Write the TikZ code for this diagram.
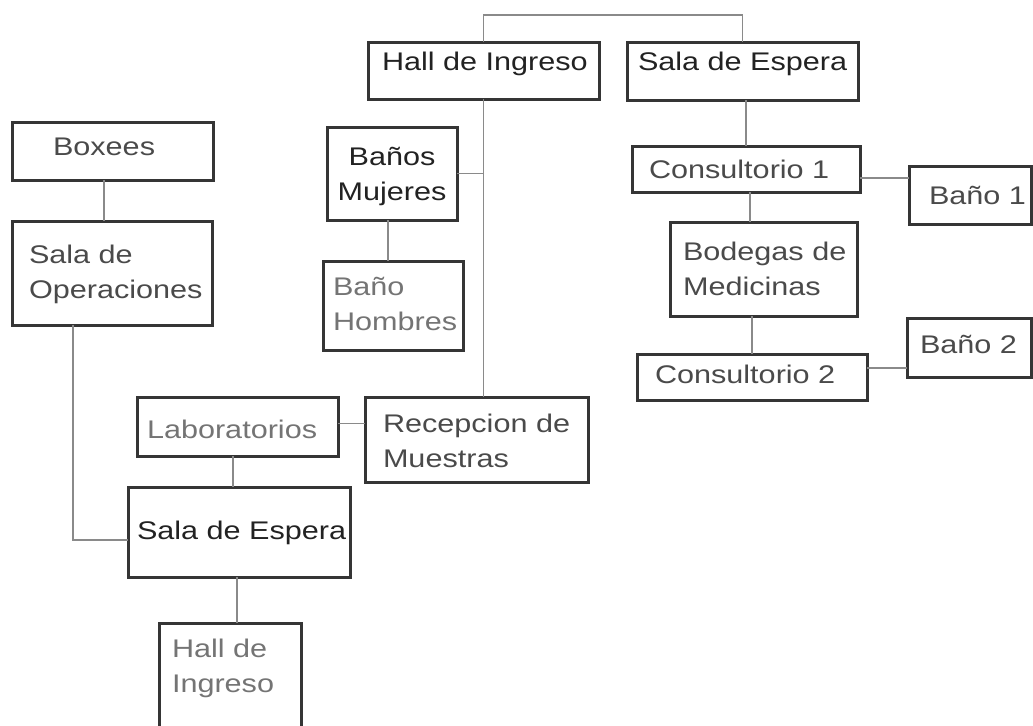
\documentclass[tikz,border=0pt]{standalone}
\usepackage{fontspec}
\setmainfont{Liberation Sans}[FakeStretch=1.2]
\hyphenpenalty=10000
\definecolor{boxline}{HTML}{353535}
\definecolor{wiregray}{HTML}{8A8A8A}
\definecolor{inkdark}{HTML}{222222}
\definecolor{inkgray}{HTML}{4A4A4A}
\definecolor{inklight}{HTML}{747474}

\begin{document}
\begin{tikzpicture}[x=0.5pt, y=-0.5pt,
    font=\fontsize{12.75pt}{17.5pt}\selectfont,
    room/.style n args={3}{draw=boxline, line width=1.5pt, outer sep=0pt,
      inner xsep=0pt, inner ysep=0pt, anchor=north west, align=left,
      text width=#1, text height=#2, text depth=#3},
    pad/.style={execute at begin node={\leftskip=#1}},
    wire/.style={draw=wiregray, line width=0.8pt}]
  \useasboundingbox (0,0) rectangle (1033,725);
  \clip (0,0) rectangle (1033,725);
  % top row
  \node[room={115.5pt}{14pt}{14.5pt}, pad=7pt, text=inkdark]   (hallA)   at (368,42)  {Hall de Ingreso};
  \node[room={115.5pt}{14pt}{15pt}, pad=5.5pt, text=inkdark]   (esperaA) at (627,42)  {Sala de Espera};
  % left column
  \node[room={100.5pt}{16.5pt}{12.5pt}, pad=20.5pt, text=inkgray] (boxees) at (12,122)  {Boxees};
  \node[room={100pt}{21pt}{31pt}, pad=8.5pt, text=inkgray]     (operac)  at (12,221)  {Sala de\\Operaciones};
  % middle column
  \node[room={65pt}{19pt}{27.5pt}, align=center, text=inkdark] (mujeres) at (327,127) {Baños\\Mujeres};
  \node[room={70pt}{17pt}{27.5pt}, pad=5pt, text=inklight]     (hombres) at (323,261) {Baño\\Hombres};
  \node[room={100.5pt}{20.5pt}{9pt}, pad=5pt, text=inklight]   (labs)    at (137,397) {Laboratorios};
  \node[room={111.5pt}{17.5pt}{25pt}, pad=9pt, text=inkgray]   (recep)   at (365,397) {Recepcion de\\Muestras};
  \node[room={111pt}{26pt}{19pt}, pad=4.5pt, text=inkdark]     (esperaB) at (128,487) {Sala de Espera};
  \node[room={71pt}{17pt}{41.5pt}, pad=6.5pt, text=inklight]   (hallB)   at (159,623) {Hall de\\Ingreso};
  % right column
  \node[room={114pt}{16pt}{7pt}, pad=8.5pt, text=inkgray]      (cons1)   at (632,146) {Consultorio 1};
  \node[room={61pt}{19pt}{10pt}, pad=10pt, text=inkgray]       (bano1)   at (909,166) {Baño 1};
  \node[room={93.5pt}{19pt}{28pt}, pad=6.5pt, text=inkgray]    (bodegas) at (670,222) {Bodegas de\\Medicinas};
  \node[room={115pt}{14.5pt}{8.5pt}, pad=9pt, text=inkgray]    (cons2)   at (637,354) {Consultorio 2};
  \node[room={62pt}{17.5pt}{12pt}, pad=6.5pt, text=inkgray]    (bano2)   at (907,318) {Baño 2};
  % connectors
  \draw[wire] (hallA.north) -- ++(0,-27) -| (esperaA.north);
  \draw[wire] (hallA.south) -- (hallA.south |- recep.north);
  \draw[wire] (mujeres.east) -- (mujeres.east -| hallA.south);
  \draw[wire] ([xshift=-2pt]mujeres.south) -- ([xshift=-2pt]mujeres.south |- hombres.north);
  \draw[wire] ([xshift=-4.25pt]boxees.south) -- ([xshift=-4.25pt]boxees.south |- operac.north);
  \draw[wire] ([xshift=-19.5pt]operac.south) |- ([yshift=-4pt]esperaB.west);
  \draw[wire] ([yshift=1.5pt]labs.east) -- ([yshift=1.5pt]labs.east -| recep.west);
  \draw[wire] ([xshift=-2.25pt]labs.south) -- ([xshift=-2.25pt]labs.south |- esperaB.north);
  \draw[wire] ([xshift=-1pt]esperaB.south) -- ([xshift=-1pt]esperaB.south |- hallB.north);
  \draw[wire] (esperaA.south -| cons1.north) -- (cons1.north);
  \draw[wire] ([yshift=-4.5pt]cons1.east) -- ([yshift=-4.5pt]cons1.east -| bano1.west);
  \draw[wire] ([xshift=2pt]cons1.south) -- ([xshift=2pt]cons1.south |- bodegas.north);
  \draw[wire] (cons2.north) -- (cons2.north |- bodegas.south);
  \draw[wire] ([yshift=4.5pt]cons2.east) -- ([yshift=4.5pt]cons2.east -| bano2.west);
\end{tikzpicture}
\end{document}
